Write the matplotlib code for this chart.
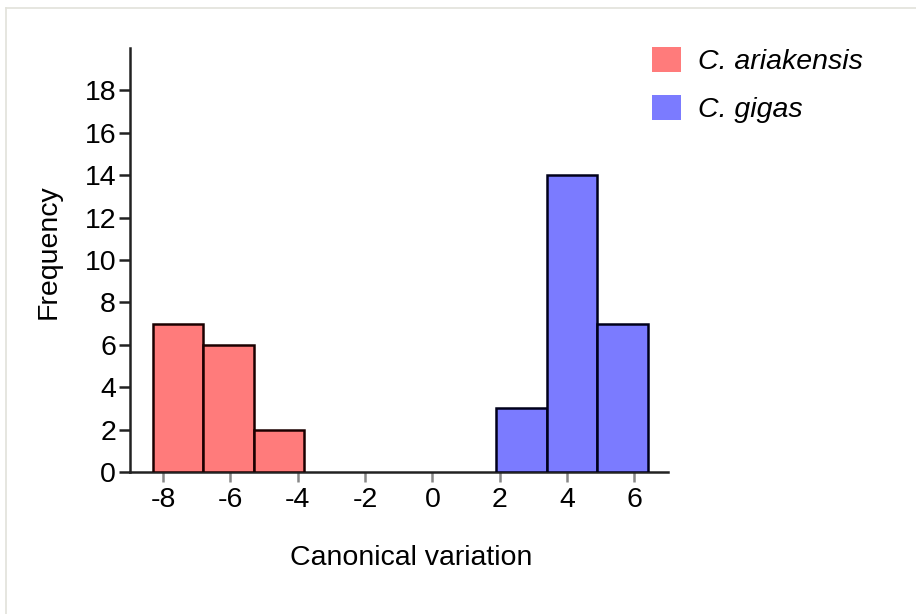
import matplotlib
matplotlib.use("Agg")
import matplotlib.pyplot as plt
from matplotlib.patches import Patch
from matplotlib.lines import Line2D

# Data
red_edges = [-8.3, -6.8, -5.3, -3.8]
red_counts = [7, 6, 2]
blue_edges = [1.9, 3.4, 4.9, 6.4]
blue_counts = [3, 14, 7]
series_names = ["C. ariakensis", "C. gigas"]
xticks = [-8, -6, -4, -2, 0, 2, 4, 6]
yticks = [0, 2, 4, 6, 8, 10, 12, 14, 16, 18]

red_c = "#ff7b7b"
blue_c = "#7b7bff"
fs = 20.5

plt.rcParams['font.family'] = ['Liberation Sans', 'DejaVu Sans']

W, H = 916, 614
fig = plt.figure(figsize=(W / 100, H / 100), dpi=100)
# thin light frame lines (top and left)
fig.add_artist(Line2D([6 / W, 1.0], [1 - 8 / H, 1 - 8 / H], transform=fig.transFigure,
                      color="#e2e2da", linewidth=1.2))
fig.add_artist(Line2D([6 / W, 6 / W], [0.0, 1 - 8 / H], transform=fig.transFigure,
                      color="#e2e2da", linewidth=1.2))

ax = fig.add_axes([130 / W, 1 - 472 / H, 538 / W, 424 / H])

rw = [red_edges[i + 1] - red_edges[i] for i in range(len(red_counts))]
bw = [blue_edges[i + 1] - blue_edges[i] for i in range(len(blue_counts))]
ax.bar(red_edges[:-1], red_counts, width=rw, align='edge', color=red_c,
       edgecolor="#1a0000", linewidth=1.8, zorder=3)
ax.bar(blue_edges[:-1], blue_counts, width=bw, align='edge', color=blue_c,
       edgecolor="#00001a", linewidth=1.8, zorder=3)

ax.set_xlim(-8.98, 7.0)
ax.set_ylim(0, 20)
ax.set_xticks(xticks)
ax.set_yticks(yticks)
ax.set_xticklabels([str(t) for t in xticks])
ax.set_yticklabels([str(t) for t in yticks])
for s in ["top", "right"]:
    ax.spines[s].set_visible(False)
for s in ["left", "bottom"]:
    ax.spines[s].set_linewidth(1.8)
    ax.spines[s].set_color("#222222")
ax.tick_params(axis='y', direction='out', length=8, width=1.8, color="#222222",
               labelsize=fs, pad=2)
ax.tick_params(axis='x', direction='out', length=7, width=1.8, color="#888888",
               labelsize=fs, pad=4)

ax.set_ylabel("Frequency", fontsize=fs)
ax.yaxis.set_label_coords(-0.128, 0.519)
ax.set_xlabel("Canonical variation", fontsize=fs)
ax.xaxis.set_label_coords(0.522, -0.203)
ax.xaxis.label.set_verticalalignment('center')

handles = [Patch(facecolor=red_c, edgecolor='none'),
           Patch(facecolor=blue_c, edgecolor='none')]
leg = fig.legend(handles, series_names, loc='upper left',
                 bbox_to_anchor=(0.684, 0.966), frameon=False,
                 prop={'size': fs, 'style': 'italic'},
                 handlelength=1.0, handleheight=1.0, labelspacing=0.7,
                 handletextpad=0.6)

fig.savefig("out.png", dpi=100)
